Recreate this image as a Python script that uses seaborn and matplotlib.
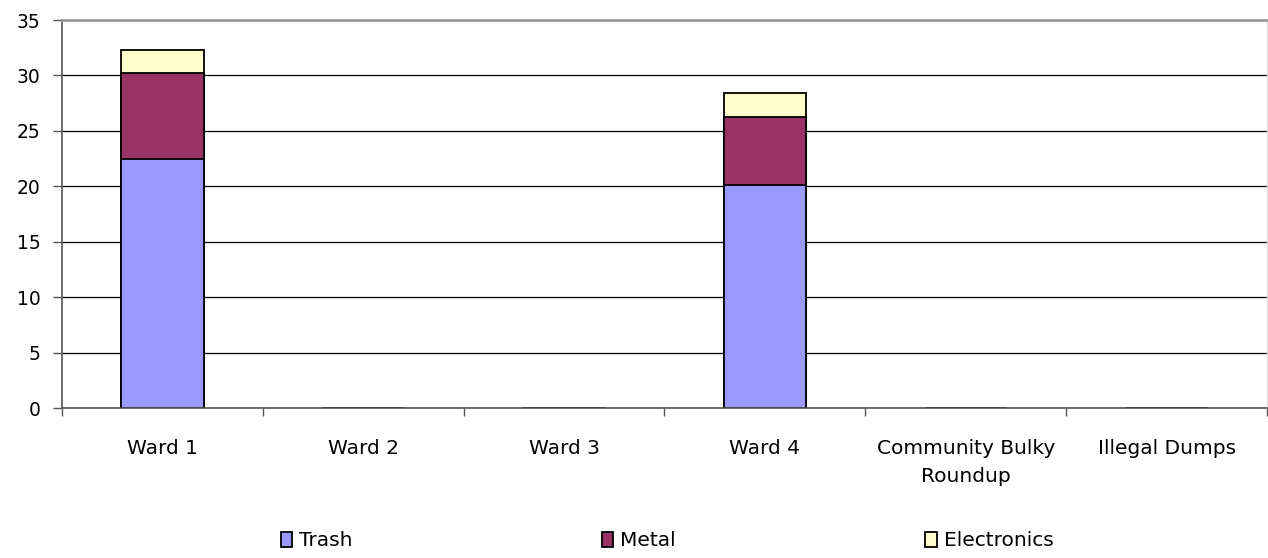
import matplotlib
matplotlib.use("Agg")
import matplotlib.pyplot as plt
import seaborn as sns
import pandas as pd
import numpy as np
from matplotlib.patches import Patch

categories = ["Ward 1", "Ward 2", "Ward 3", "Ward 4", "Community Bulky\nRoundup", "Illegal Dumps"]
trash = [22.5, 0, 0, 20.15, 0, 0]
metal = [7.75, 0, 0, 6.1, 0, 0]
electronics = [2.0, 0, 0, 2.2, 0, 0]
series_names = ["Trash", "Metal", "Electronics"]
colors = ["#9999FF", "#993366", "#FFFFCC"]
yticks = [0, 5, 10, 15, 20, 25, 30, 35]

sns.set_theme(style="white")
plt.rcParams["font.family"] = ["DejaVu Sans"]

fig = plt.figure(figsize=(12.68, 5.58), dpi=100)
ax = fig.add_axes([62 / 1268, 150 / 558, 1205 / 1268, 388 / 558])

t = np.array(trash)
m = np.array(metal)
e = np.array(electronics)
df = pd.DataFrame({
    "cat": categories,
    "trash": t,
    "tm": t + m,
    "tme": t + m + e,
})

for col, c in [("tme", colors[2]), ("tm", colors[1]), ("trash", colors[0])]:
    sns.barplot(data=df, x="cat", y=col, color=c, width=0.41, edgecolor="black",
                linewidth=1.3, saturation=1, ax=ax, order=categories, errorbar=None)

ax.set_xlim(-0.5, 5.5)
ax.set_ylim(0, 35)
ax.set_yticks(yticks)
ax.set_yticklabels([str(v) for v in yticks], fontsize=13.5, color="black")
ax.set_xlabel("")
ax.set_ylabel("")
ax.set_xticks(range(len(categories)))
ax.set_xticklabels(categories, fontsize=14.5, color="black", linespacing=1.6)
ax.set_xticks(np.arange(-0.5, 6, 1), minor=True)
ax.tick_params(axis="x", which="major", length=0, pad=22)
ax.tick_params(axis="x", which="minor", length=6, width=1, color="#555555", direction="out", bottom=True)
ax.tick_params(axis="y", which="major", length=6.5, width=1, color="#555555", direction="out", left=True, pad=9)

ax.yaxis.grid(True, color="black", linewidth=0.9)
ax.set_axisbelow(True)

for side in ["left", "bottom"]:
    ax.spines[side].set_color("#555555")
    ax.spines[side].set_linewidth(1.2)
ax.spines["top"].set_color("#999999")
ax.spines["top"].set_linewidth(2)
ax.spines["right"].set_color("#dddddd")
ax.spines["right"].set_linewidth(1)

handles = [Patch(facecolor=c, edgecolor="black", linewidth=1.3, label=n) for n, c in zip(series_names, colors)]
fig.legend(handles=handles, loc="center", bbox_to_anchor=(0.526, 17 / 558), ncol=3,
           frameon=False, fontsize=14.5, handlelength=0.55, handleheight=0.75,
           handletextpad=0.35, columnspacing=12.4, labelcolor="black")

fig.savefig("out.png", dpi=100, facecolor="white")
